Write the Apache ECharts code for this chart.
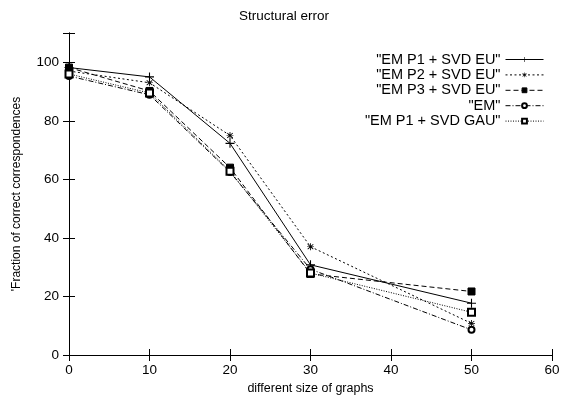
<!DOCTYPE html>
<html>
<head>
<meta charset="utf-8">
<script src="https://cdn.jsdelivr.net/npm/echarts@6/dist/echarts.min.js"></script>
<style>
  html, body { margin: 0; padding: 0; background: #fff; }
  #chart { width: 580px; height: 403px; }
</style>
</head>
<body>
<div id="chart"></div>
<script>
// graph sizes on the x axis
var sizes = [0, 10, 20, 30, 50];

var seriesNames = ['"EM P1 + SVD EU"', '"EM P2 + SVD EU"', '"EM P3 + SVD EU"', '"EM"', '"EM P1 + SVD GAU"'];
var p1Eu  = [98.2, 95, 72.3, 30.8, 17.7];
var p2Eu  = [97, 93, 75, 37, 10.8];
var p3Eu  = [98.2, 90.2, 64, 27.7, 21.7];
var em    = [95.3, 88.9, 62.5, 29.3, 8.6];
var p1Gau = [96, 89.5, 62.8, 28, 14.6];

var yTicks = [0, 20, 40, 60, 80, 100];

// gnuplot-like marks
var plusPath = 'path://M4.4,0L5.6,0L5.6,4.4L10,4.4L10,5.6L5.6,5.6L5.6,10L4.4,10L4.4,5.6L0,5.6L0,4.4L4.4,4.4Z';
var starPath = 'path://M4.4,0L5.6,0L5.6,3.6L8.6,1.1L9.4,2L6.4,4.6L10,4.6L10,5.4L6.4,5.4L9.4,8L8.6,8.9L5.6,6.4L5.6,10L4.4,10L4.4,6.4L1.4,8.9L0.6,8L3.6,5.4L0,5.4L0,4.6L3.6,4.6L0.6,2L1.4,1.1L4.4,3.6Z';

var styles = [
  { dash: 'solid', symbol: plusPath, size: 9 },
  { dash: [2, 2.5], symbol: starPath, size: 7 },
  { dash: [5, 3], symbol: 'rect', size: 7 },
  { dash: [5, 2, 1, 2], symbol: 'emptyCircle', size: 6 },
  { dash: [1, 1.5], symbol: 'emptyRect', size: 7 }
];
var allData = [p1Eu, p2Eu, p3Eu, em, p1Gau];

var chart = echarts.init(document.getElementById('chart'));

var series = allData.map(function (vals, i) {
  var st = styles[i];
  return {
    name: seriesNames[i],
    type: 'line',
    data: sizes.map(function (x, k) { return [x, vals[k]]; }),
    symbol: st.symbol,
    symbolSize: st.size,
    showAllSymbol: true,
    lineStyle: { color: '#000', width: 1, type: st.dash },
    itemStyle: { color: '#000', borderColor: '#000', borderWidth: 1 },
    emphasis: { disabled: true },
    animation: false
  };
});
series[0].itemStyle.borderWidth = 0;
series[1].itemStyle.borderWidth = 0;

// one legend per row so the texts line up on the right, like gnuplot
var legends = seriesNames.map(function (n, i) {
  return {
    data: [n],
    right: 36,
    top: 52 + i * 15.4,
    padding: 0,
    align: 'right',
    itemWidth: 38,
    itemHeight: 6,
    selectedMode: false,
    lineStyle: { width: 1 },
    itemStyle: { borderWidth: i < 2 ? 0 : 1 },
    textStyle: { fontFamily: 'Liberation Sans', fontSize: 14.5, color: '#000' }
  };
});

chart.setOption({
  backgroundColor: '#fff',
  title: {
    text: 'Structural error',
    left: 279,
    textAlign: 'center',
    top: 4,
    textStyle: { fontFamily: 'Liberation Sans', fontSize: 13.5, fontWeight: 'normal', color: '#000' }
  },
  legend: legends,
  grid: { left: 69, right: 28, top: 33, bottom: 48 },
  xAxis: [{
    type: 'value',
    min: 0, max: 60, interval: 10,
    name: 'different size of graphs',
    nameLocation: 'middle',
    nameGap: 26,
    nameTextStyle: { fontFamily: 'Liberation Sans', fontSize: 12.5, color: '#000' },
    axisLine: { lineStyle: { color: '#000', width: 1 } },
    axisTick: { inside: true, length: 6, lineStyle: { color: '#000' } },
    axisLabel: { fontFamily: 'Liberation Sans', fontSize: 13.5, color: '#000', margin: 8 },
    splitLine: { show: false }
  }, {
    type: 'value', position: 'top',
    min: 0, max: 60, interval: 10,
    axisLine: { lineStyle: { color: '#000', width: 1 } },
    axisTick: { inside: true, length: 6, lineStyle: { color: '#000' } },
    axisLabel: { show: false },
    splitLine: { show: false }
  }],
  yAxis: [{
    type: 'value',
    min: 0, max: 110, interval: 20,
    name: "'Fraction of correct correspondences",
    nameLocation: 'middle',
    nameGap: 46,
    nameTextStyle: { fontFamily: 'Liberation Sans', fontSize: 12, color: '#000' },
    axisLine: { show: true, lineStyle: { color: '#000', width: 1 } },
    axisTick: { inside: true, length: 6, lineStyle: { color: '#000' } },
    axisLabel: {
      fontFamily: 'Liberation Sans', fontSize: 13.5, color: '#000', margin: 10,
      formatter: function (v) { return yTicks.indexOf(v) >= 0 ? v : ''; }
    },
    splitLine: { show: false }
  }, {
    type: 'value', position: 'right',
    min: 0, max: 110, interval: 20,
    axisLine: { show: true, lineStyle: { color: '#000', width: 1 } },
    axisTick: { inside: true, length: 6, lineStyle: { color: '#000' } },
    axisLabel: { show: false },
    splitLine: { show: false }
  }],
  series: series
});
</script>
</body>
</html>
